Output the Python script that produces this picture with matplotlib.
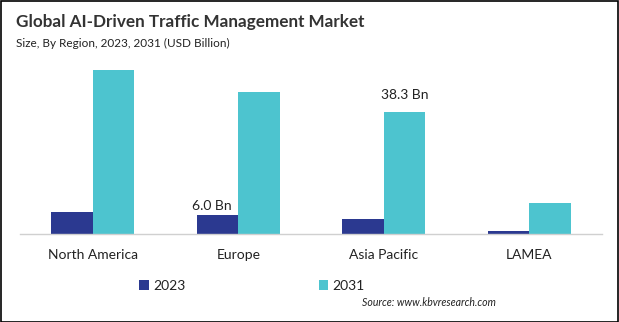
import matplotlib
matplotlib.use("Agg")
from matplotlib import pyplot as plt
from matplotlib.patches import Rectangle
import numpy as np

plt.rcParams['font.family'] = ['Lato', 'DejaVu Sans']

regions = ["North America", "Europe", "Asia Pacific", "LAMEA"]
values_2023 = [6.9, 6.0, 4.7, 0.9]
values_2031 = [51.6, 44.7, 38.3, 9.7]
# (series, region index, text)
value_labels = [("2023", 1, "6.0 Bn"), ("2031", 2, "38.3 Bn")]

navy = "#2b3990"
cyan = "#4dc4cf"

W, H = 619, 322
fig = plt.figure(figsize=(W / 100, H / 100), dpi=100)
fig.patch.set_facecolor("white")

# axes placed in pixel units
left, right, bottom, top = 20, 602, 234, 43
ax = fig.add_axes([left / W, 1 - bottom / H, (right - left) / W, (bottom - top) / H])

x = np.arange(len(regions))
w = 0.286
ax.bar(x - w / 2, values_2023, w, color=navy, label="2023")
ax.bar(x + w / 2, values_2031, w, color=cyan, label="2031")

series = {"2023": (x - w / 2, values_2023), "2031": (x + w / 2, values_2031)}
offsets = {"2023": (-4, 2), "2031": (0, 8)}
for name, i, text in value_labels:
    xs, vals = series[name]
    ax.annotate(text, (xs[i], vals[i]), xytext=offsets[name],
                textcoords="offset points", ha="center", va="bottom",
                fontsize=10, color="#222222")

ax.set_xlim(-0.5, 3.5)
ax.set_ylim(0, 60)
ax.set_xticks(x)
ax.set_xticklabels(regions, fontsize=10, color="#222222")
ax.tick_params(axis="x", length=0, pad=11)
ax.set_yticks([])
for s in ["top", "right", "left"]:
    ax.spines[s].set_visible(False)
ax.spines["bottom"].set_color("#d0d0d0")
ax.spines["bottom"].set_linewidth(1)

fig.text(16 / W, 1 - 22 / H, "Global AI-Driven Traffic Management Market",
         fontsize=12.3, fontweight="bold", color="#333333", va="center", ha="left")
fig.text(16 / W, 1 - 43 / H, "Size, By Region, 2023, 2031 (USD Billion)",
         fontsize=8.5, color="#222222", va="center", ha="left")

leg = fig.legend(loc="center", bbox_to_anchor=(252 / W, 1 - 286 / H), ncol=2,
                 frameon=False, fontsize=10, handlelength=0.7, handleheight=0.7,
                 handletextpad=0.3, columnspacing=9.6)
for t in leg.get_texts():
    t.set_color("#222222")

fig.text(496 / W, 1 - 303 / H, "Source: www.kbvresearch.com", fontsize=7.6,
         style="italic", color="#222222", ha="right", va="center")

fig.patches.append(Rectangle((0.5 / W, 0.5 / H), 1 - 1.5 / W, 1 - 1.5 / H,
                             transform=fig.transFigure, fill=False,
                             edgecolor="black", linewidth=1.2))

fig.savefig("out.png", dpi=100)
